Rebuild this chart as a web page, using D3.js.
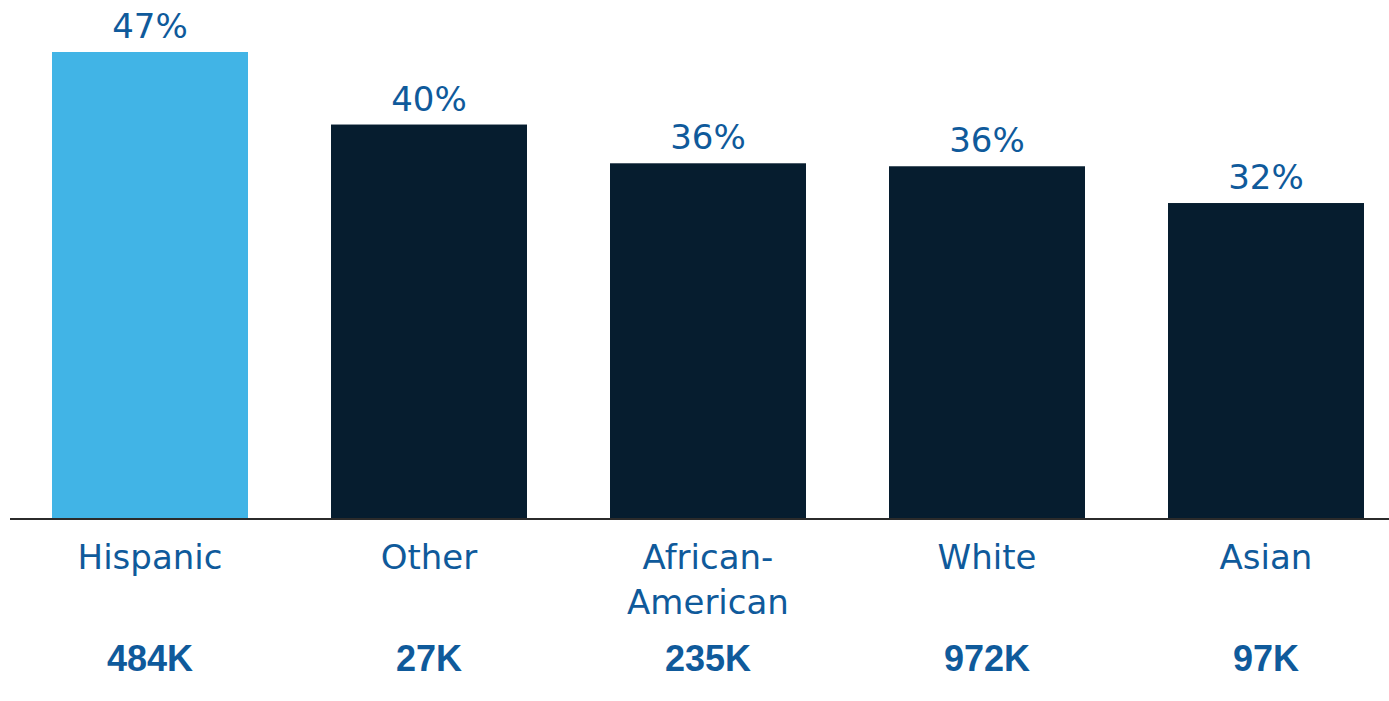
<!DOCTYPE html>
<html>
<head>
<meta charset="utf-8">
<script src="https://cdn.jsdelivr.net/npm/d3@7"></script>
<style>
  html, body { margin: 0; padding: 0; background: #ffffff; }
  svg { display: block; }
</style>
</head>
<body>
<div id="chart"></div>
<script>
// Share by group (percent) and group population counts
const categories = ["Hispanic", "Other", "African-American", "White", "Asian"];
const categoryLines = [["Hispanic"], ["Other"], ["African-", "American"], ["White"], ["Asian"]];
const shares = [47.0, 39.7, 35.8, 35.5, 31.8];
const counts = ["484K", "27K", "235K", "972K", "97K"];
const highlighted = ["Hispanic"];

const W = 1389, H = 701;
const baseY = 519;

const svg = d3.select("#chart").append("svg")
  .attr("width", W).attr("height", H);

const x = d3.scaleBand()
  .domain(categories)
  .range([10.5, 1405.5])
  .paddingInner(0.2975)
  .paddingOuter(0.14875);

const y = d3.scaleLinear()
  .domain([0, 47])
  .range([baseY, 52]);

const textColor = "#0f5a9b";
const labelFont = "'Century Gothic', 'URW Gothic', 'DejaVu Sans', sans-serif";

// bars
svg.append("g").selectAll("rect")
  .data(categories)
  .join("rect")
  .attr("x", d => x(d))
  .attr("width", x.bandwidth())
  .attr("y", (d, i) => y(shares[i]))
  .attr("height", (d, i) => y(0) - y(shares[i]))
  .attr("fill", d => highlighted.includes(d) ? "#41b4e6" : "#061d2f");

// value labels above bars
svg.append("g").selectAll("text")
  .data(categories)
  .join("text")
  .attr("x", d => x(d) + x.bandwidth() / 2)
  .attr("y", (d, i) => y(shares[i]) - 14)
  .attr("text-anchor", "middle")
  .attr("font-family", labelFont)
  .attr("font-size", 34)
  .attr("fill", textColor)
  .text((d, i) => d3.format(".0f")(shares[i]) + "%");

// baseline axis
const axis = svg.append("g")
  .attr("transform", `translate(0,${baseY})`)
  .call(d3.axisBottom(x).tickSize(0).tickFormat(""));
axis.select(".domain").remove();
svg.append("line")
  .attr("x1", 10).attr("x2", W)
  .attr("y1", baseY).attr("y2", baseY)
  .attr("stroke", "#2b2b2b").attr("stroke-width", 2);

// category labels
const cat = svg.append("g").selectAll("text")
  .data(categories)
  .join("text")
  .attr("text-anchor", "middle")
  .attr("font-family", labelFont)
  .attr("font-size", 34)
  .attr("fill", textColor);
cat.selectAll("tspan")
  .data((d, i) => categoryLines[i].map(t => ({ t, c: d })))
  .join("tspan")
  .attr("x", d => x(d.c) + x.bandwidth() / 2)
  .attr("y", (d, j) => 569 + j * 45)
  .text(d => d.t);

// population counts
svg.append("g").selectAll("text")
  .data(categories)
  .join("text")
  .attr("x", d => x(d) + x.bandwidth() / 2)
  .attr("y", 671)
  .attr("text-anchor", "middle")
  .attr("font-family", "'Liberation Sans', Arial, sans-serif")
  .attr("font-weight", "bold")
  .attr("font-size", 36)
  .attr("fill", textColor)
  .text((d, i) => counts[i]);
</script>
</body>
</html>
